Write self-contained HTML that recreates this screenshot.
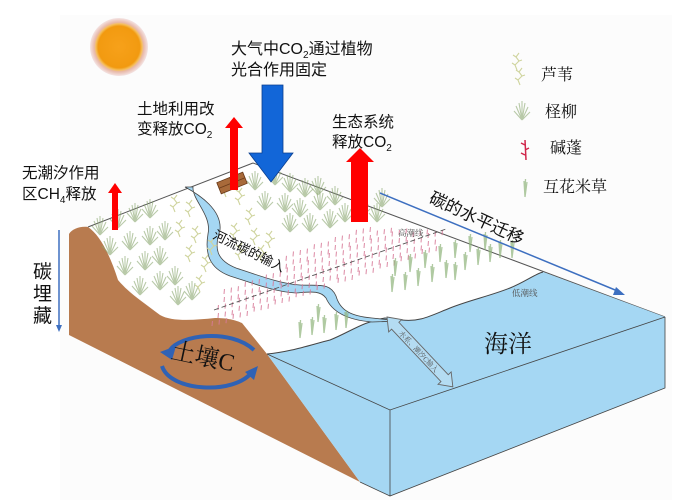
<!DOCTYPE html>
<html><head><meta charset="utf-8"><style>
html,body{margin:0;padding:0;background:#fff;}
svg{display:block;}
.t{font-family:"Liberation Sans","Noto Sans CJK SC",sans-serif;fill:#111;}
.s{font-family:"Liberation Serif","Noto Serif CJK SC",serif;fill:#111;}
</style></head><body>
<svg id="sv" width="675" height="500" viewBox="0 0 675 500" xmlns="http://www.w3.org/2000/svg">
<defs>
<radialGradient id="sun" cx="50%" cy="50%" r="50%">
<stop offset="0" stop-color="#f7a11a"/><stop offset="0.72" stop-color="#f29a10"/><stop offset="0.8" stop-color="#f5c060"/><stop offset="0.85" stop-color="#e8b8a8"/><stop offset="1" stop-color="#f4e4e4"/>
</radialGradient>
<g id="tam"><path d="M0 0 L-6 -14 M0 0 L-3 -17 M0 0 L0 -19 M0 0 L3 -17 M0 0 L6 -13 M0 0 L-8 -9 M0 0 L8 -8" stroke="#8aa670" stroke-width="1.1" fill="none" opacity="0.6"/></g>
<g id="reed"><path d="M0 0 L-2 -5 L2 -9 L-1 -13 L2 -17 M-2 -5 L-5 -7 M2 -9 L5 -10 M-1 -13 L-4 -15" stroke="#cfd49e" stroke-width="1.1" fill="none"/></g>
<g id="pk"><path d="M0 0 L0.5 -5" stroke="#d87a98" stroke-width="1.1" opacity="0.8"/></g>
<g id="sp"><path d="M0 0 L-1 -16 M0 0 L0.5 -18 M0 0 L2 -15" stroke="#8fb47a" stroke-width="1.3" fill="none" opacity="0.7"/></g>
</defs>
<rect x="60" y="15" width="612" height="485" fill="#fcfcfc"/>
<circle cx="119" cy="47" r="29" fill="url(#sun)"/>
<polygon points="88,227 253,163 543,272 500,290 460,305 420,322 400,320 375,322 330,340 300,350 267,354 240,323 215,318 200,322 175,322 160,315 135,295 118,280 105,250" fill="#fff"/>
<line x1="88" y1="227" x2="253" y2="163" stroke="#555" stroke-width="1"/>
<line x1="253" y1="163" x2="665" y2="317" stroke="#555" stroke-width="1"/>
<path d="M69,234 C72,229 80,226 88,227 C100,235 110,255 118,280 C128,292 140,300 160,315 C172,322 195,320 215,318 C228,318 235,320 242,323 L267,354 L360,482 L69,335 Z" fill="#b87b4f"/>
<path d="M267,354 C290,352 310,345 330,340 C350,332 362,322 385,318 L402,320 C420,322 430,316 450,308 C470,300 490,296 510,288 C525,282 535,274 543,272 L665,317 L665,388 L390,496 L360,482 Z" fill="#a5d7f3"/>
<path d="M267,354 C290,352 310,345 330,340 C350,332 362,322 385,318 L402,320 C420,322 430,316 450,308 C470,300 490,296 510,288 C525,282 535,274 543,272" fill="none" stroke="#444" stroke-width="1"/>
<path d="M267,354 L390,410 L665,317 M390,410 L390,496 L665,388 L665,317 M360,482 L390,496" fill="none" stroke="#444" stroke-width="0.8"/>
<path d="M185,187 C200,195 222,210 220,230 C214,248 216,260 236,268 C260,276 282,284 300,285 C318,286 330,282 336,296 C340,310 350,316 372,318 L400,321 L372,322 C348,320 332,312 326,298 C320,290 310,292 296,293 C276,292 255,284 230,276 C208,268 205,252 208,234 C212,215 192,200 193,187 Z" fill="#a5d7f3" stroke="#444" stroke-width="0.8"/>
<g id="plants"></g>
<line x1="214" y1="310" x2="446" y2="229" stroke="#555" stroke-width="0.9" stroke-dasharray="5,3"/>
<text x="398" y="236" class="s" font-size="8.5" style="fill:#555">高潮线</text>
<text x="512" y="296" class="s" font-size="8.5" style="fill:#555">低潮线</text>
<g transform="rotate(-22 232 183)"><rect x="218" y="177" width="28" height="12" fill="#a86a3a" stroke="#6b3b1a" stroke-width="0.8"/><line x1="218" y1="183" x2="246" y2="183" stroke="#6b3b1a" stroke-width="0.8"/><line x1="232" y1="177" x2="232" y2="189" stroke="#6b3b1a" stroke-width="0.8"/></g>
<polygon points="112,230 118,230 118,193 122,193 115,183 108,193 112,193" fill="#f00"/>
<polygon points="230,190 238,190 238,128 243,128 234,117 225,128 230,128" fill="#f00"/>
<polygon points="351,222 368,222 368,162 374,162 360,148 346,162 351,162" fill="#f00"/>
<polygon points="262,85 283,85 283,153 293,153 271,182 249,153 262,153" fill="#1266d8" stroke="#0b3f8f" stroke-width="0.8"/>
<line x1="59" y1="230" x2="59" y2="326" stroke="#3d6fc0" stroke-width="1.5"/>
<polygon points="56,325 62,325 59,332" fill="#3d6fc0"/>
<line x1="380" y1="193" x2="620" y2="292" stroke="#3d6fc0" stroke-width="1.5"/>
<polygon points="616,287 625,295 613,295" fill="#3d6fc0"/>
<g transform="translate(387,317) rotate(46.7)">
<polygon points="0,0 12,-9 12,-5 84,-5 84,-9 96,0 84,9 84,5 12,5 12,9" fill="#b4dcf2" stroke="#666" stroke-width="0.9"/>
<text x="20" y="3" class="s" font-size="7" style="fill:#555">水系、潮汐C输入</text>
</g>
<path d="M170,350 C180,335 230,328 254,350" fill="none" stroke="#2f62b5" stroke-width="4"/>
<polygon points="160,352 176,346 172,360" fill="#2f62b5"/>
<path d="M162,366 C170,392 235,395 252,372" fill="none" stroke="#2f62b5" stroke-width="4"/>
<polygon points="258,366 254,380 245,372" fill="#2f62b5"/>
<text x="170" y="358" class="s" font-size="24" transform="rotate(12 170 358)">土壤C</text>
<text x="231" y="54" class="t" font-size="16">大气中CO<tspan font-size="10" dy="4">2</tspan><tspan dy="-4">通过植物</tspan></text>
<text x="231" y="75" class="t" font-size="16">光合作用固定</text>
<text x="137" y="114" class="t" font-size="15.5">土地利用改</text>
<text x="137" y="134" class="t" font-size="15.5">变释放CO<tspan font-size="10" dy="4">2</tspan></text>
<text x="332" y="127" class="t" font-size="15.5">生态系统</text>
<text x="332" y="147" class="t" font-size="15.5">释放CO<tspan font-size="10" dy="4">2</tspan></text>
<text x="22" y="178" class="t" font-size="15.5">无潮汐作用</text>
<text x="22" y="199" class="t" font-size="15.5">区CH<tspan font-size="10" dy="4">4</tspan><tspan dy="-4">释放</tspan></text>
<text x="33" y="278" class="t" font-size="19">碳</text>
<text x="33" y="300" class="t" font-size="19">埋</text>
<text x="33" y="322" class="t" font-size="19">藏</text>
<text x="428" y="202" class="t" font-size="17" transform="rotate(25 428 202)">碳的水平迁移</text>
<text x="212" y="238" class="t" font-size="13" transform="rotate(26 212 238)">河流碳的输入</text>
<text x="484" y="352" class="s" font-size="24">海洋</text>
<use href="#reed" x="520" y="85"/><use href="#reed" x="517" y="70"/>
<text x="541" y="80" class="s" font-size="16">芦苇</text>
<use href="#tam" x="522" y="120"/>
<text x="545" y="117" class="s" font-size="16">柽柳</text>
<path d="M526,160 L525,140 M525,145 L521,143 M525,150 L529,148 M525,155 L521,153" stroke="#d0254a" stroke-width="1.5" fill="none"/>
<text x="550" y="153" class="s" font-size="16">碱蓬</text>
<use href="#sp" x="525" y="197"/>
<text x="543" y="192" class="s" font-size="16">互花米草</text>
</svg>
<script>
var g=document.getElementById('plants'),ns='http://www.w3.org/2000/svg';
function u(id,x,y){var e=document.createElementNS(ns,'use');e.setAttribute('href','#'+id);e.setAttribute('x',x);e.setAttribute('y',y);g.appendChild(e);}
[[100,235],[118,228],[135,222],[150,218],[110,255],[130,250],[150,245],[165,240],[125,275],[145,270],[160,265],[140,295],[160,290],[175,285],[178,305],[192,300],[255,190],[275,185],[290,192],[305,197],[265,210],[285,212],[300,217],[320,210],[335,205],[290,232],[310,232],[330,228],[345,222],[362,217],[377,222],[382,207],[318,195]].forEach(function(p){u('tam',p[0],p[1]);});
[[175,212],[190,217],[180,237],[196,243],[190,262],[206,272],[200,292],[240,205],[250,225],[235,240],[255,245],[240,260],[262,262],[226,197],[270,248],[212,255]].forEach(function(p){u('reed',p[0],p[1]);});
for(var i=0;i<36;i++)for(var j=0;j<7;j++){var x=212+i*7+j*3+(j%2)*3,y=326-i*2.4-j*8+((i*7)%3);
 if(x>470)continue; if(y<232)continue; if(j>4&&x<280)continue;
 if(x>325&&x<345&&y>285)continue; if(x>440&&j<2)continue; u('pk',x,y);}
[[300,338],[312,335],[324,333],[336,330],[346,328],[318,322],[392,292],[405,290],[418,286],[432,282],[446,278],[395,276],[410,272],[425,268],[440,262],[455,258],[465,270],[478,265],[490,262],[500,258],[470,252],[485,250],[512,258],[455,280]].forEach(function(p){u('sp',p[0],p[1]);});
</script>
</body></html>
